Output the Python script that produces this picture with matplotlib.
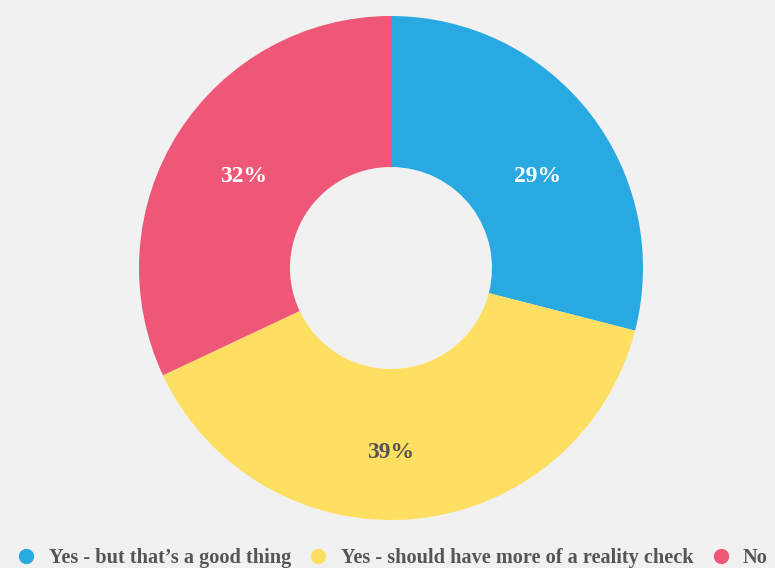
import matplotlib.pyplot as plt
from matplotlib.lines import Line2D

# 응답 비율
labels = ['Yes - but that\u2019s a good thing', 'Yes - should have more of a reality check', 'No']
values = [29, 39, 32]
colors = ['#29a9e1', '#fedf62', '#ef5779']
text_colors = ['white', '#555555', 'white']
label_pos = [(538, 392), (391, 115), (244, 392)]  # 퍼센트 라벨 위치 (픽셀)

plt.rcParams['font.family'] = ['Liberation Serif', 'DejaVu Serif']
plt.rcParams['font.weight'] = 'bold'

fig = plt.figure(figsize=(7.75, 5.68), dpi=100, facecolor='#f1f1f1')
ax = fig.add_axes([0, 0, 1, 1])
ax.set_facecolor('#f1f1f1')

# 도넛 차트 (위에서 시작, 시계방향)
wedges, texts = ax.pie(values, colors=colors, startangle=90, counterclock=False,
                       center=(391, 300), radius=252,
                       wedgeprops=dict(width=151, linewidth=0),
                       labels=[f'{v}%' for v in values],
                       textprops=dict(fontsize=17, fontweight='bold', ha='center', va='center'))
for t, c, p in zip(texts, text_colors, label_pos):
    t.set_color(c)
    t.set_position(p)
    t.set_ha('center')
    t.set_va('center')

ax.set_xlim(0, 775)
ax.set_ylim(0, 568)
ax.set_aspect('equal')
ax.axis('off')

# 범례
handles = [Line2D([], [], marker='o', linestyle='', markersize=10, color=c) for c in colors]
leg = fig.legend(handles, labels, loc='center', bbox_to_anchor=(392 / 775, 1 - 558 / 568),
                 ncol=3, frameon=False, fontsize=14.6, handletextpad=0.6, columnspacing=0.85,
                 handlelength=1.0, borderaxespad=0, borderpad=0)
for t in leg.get_texts():
    t.set_color('#555555')

fig.savefig('out.png', dpi=100, facecolor=fig.get_facecolor())
